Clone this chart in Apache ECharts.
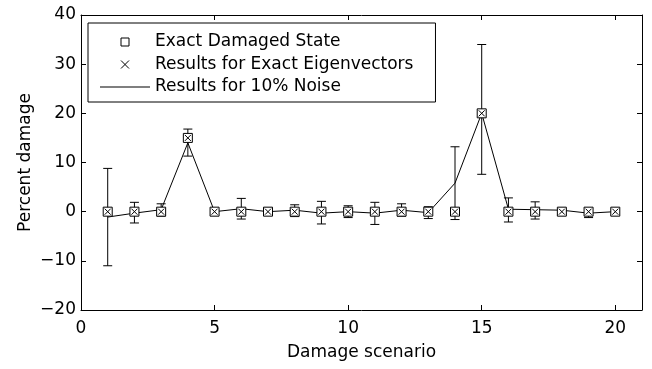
<!DOCTYPE html>
<html>
<head>
<meta charset="utf-8">
<script src="https://cdn.jsdelivr.net/npm/echarts@6/dist/echarts.min.js"></script>
<style>
  html, body { margin: 0; padding: 0; background: #fff; }
  #chart { width: 652px; height: 369px; }
</style>
</head>
<body>
<div id="chart"></div>
<script>
// damage scenarios 1..20
const scenarios = [1, 2, 3, 4, 5, 6, 7, 8, 9, 10, 11, 12, 13, 14, 15, 16, 17, 18, 19, 20];
// exact damaged state (squares)
const exactState = [0, 0, 0, 15, 0, 0, 0, 0, 0, 0, 0, 0, 0, 0, 20, 0, 0, 0, 0, 0];
// results for exact eigenvectors (x marks)
const exactEigen = [0, 0, 0, 15, 0, 0, 0, 0, 0, 0, 0, 0, 0, 0, 20, 0, 0, 0, 0, 0];
// results for 10% noise: mean line and error bar ends
const noiseMean = [-1.1, -0.3, 0.4, 14.0, 0, 0.6, 0, 0.3, -0.3, 0, -0.3, 0.3, -0.2, 5.8, 20, 0.5, 0.4, 0.3, -0.3, 0];
const noiseLow = [-11, -2.3, -0.9, 11.3, -0.5, -1.5, -0.7, -1.0, -2.5, -1.2, -2.6, -0.9, -1.4, -1.6, 7.6, -2.1, -1.5, -0.5, -1.2, -0.5];
const noiseHigh = [8.8, 1.9, 1.6, 16.8, 0.5, 2.7, 0.7, 1.4, 2.1, 1.2, 1.9, 1.6, 1.0, 13.2, 34, 2.8, 2.0, 0.5, 0.6, 0.5];

const FONT = "DejaVu Sans";
const black = "#000";

const chart = echarts.init(document.getElementById("chart"), null, { renderer: "canvas" });

// 축 공통 스타일 (MATLAB 스타일 박스, 안쪽 눈금)
const axisCommon = {
  axisLine: { show: true, onZero: false, lineStyle: { color: black, width: 1 } },
  axisTick: { show: true, inside: true, length: 5, lineStyle: { color: black } },
  splitLine: { show: false },
};

const squareIcon = "path://M0,0h10v10h-10z";
const crossIcon = "path://M0,0L10,10M10,0L0,10";
const lineIcon = "path://M0,0h50v1h-50z";

chart.setOption({
  animation: false,
  backgroundColor: "#fff",
  textStyle: { fontFamily: FONT, color: black },
  grid: { left: 81, right: 10, top: 15, bottom: 59 },
  legend: {
    orient: "vertical",
    left: 88,
    top: 23,
    padding: [10, 22, 6, 12],
    itemWidth: 50,
    itemHeight: 8,
    itemGap: 4.5,
    symbolKeepAspect: true,
    borderColor: black,
    borderWidth: 1,
    backgroundColor: "#fff",
    textStyle: { fontFamily: FONT, fontSize: 17, color: black, lineHeight: 18 },
    data: [
      { name: "Exact Damaged State", icon: squareIcon,
        itemStyle: { color: "#fff", borderColor: black, borderWidth: 1 } },
      { name: "Results for Exact Eigenvectors", icon: crossIcon,
        itemStyle: { color: "none", borderColor: black, borderWidth: 1 } },
      { name: "Results for 10% Noise", icon: lineIcon,
        itemStyle: { color: black, borderWidth: 0 } },
    ],
  },
  xAxis: [
    {
      ...axisCommon,
      type: "value", position: "bottom", min: 0, max: 21, interval: 5,
      axisLabel: {
        fontFamily: FONT, fontSize: 17, color: black, margin: 10,
        formatter: (v) => (v % 5 === 0 ? String(v) : ""),
      },
      name: "Damage scenario",
      nameLocation: "middle",
      nameGap: 34,
      nameMoveOverlap: false,
      nameTextStyle: { fontFamily: FONT, fontSize: 17, color: black },
    },
    {
      ...axisCommon,
      type: "value", position: "top", min: 0, max: 21, interval: 5,
      axisLabel: { show: false },
    },
  ],
  yAxis: [
    {
      ...axisCommon,
      type: "value", position: "left", min: -20, max: 40, interval: 10,
      axisLabel: {
        fontFamily: FONT, fontSize: 17, color: black, margin: 5,
        formatter: (v) => String(v).replace("-", "\u2212"),
      },
      name: "Percent damage",
      nameLocation: "middle",
      nameGap: 47,
      nameMoveOverlap: false,
      nameTextStyle: { fontFamily: FONT, fontSize: 17, color: black },
    },
    {
      ...axisCommon,
      type: "value", position: "right", min: -20, max: 40, interval: 10,
      axisLabel: { show: false },
    },
  ],
  series: [
    {
      name: "Results for 10% Noise",
      type: "line",
      data: scenarios.map((s, i) => [s, noiseMean[i]]),
      symbol: "none",
      lineStyle: { color: black, width: 1 },
      itemStyle: { color: black },
      z: 2,
    },
    {
      name: "errorbars",
      type: "custom",
      data: scenarios.map((s, i) => [s, noiseLow[i], noiseHigh[i]]),
      renderItem: (params, api) => {
        const x = api.value(0);
        const top = api.coord([x, api.value(2)]);
        const bot = api.coord([x, api.value(1)]);
        const w = 4.5;
        const st = { stroke: black, lineWidth: 1 };
        return {
          type: "group",
          children: [
            { type: "line", shape: { x1: top[0], y1: top[1], x2: bot[0], y2: bot[1] }, style: st },
            { type: "line", shape: { x1: top[0] - w, y1: top[1], x2: top[0] + w, y2: top[1] }, style: st },
            { type: "line", shape: { x1: bot[0] - w, y1: bot[1], x2: bot[0] + w, y2: bot[1] }, style: st },
          ],
        };
      },
      z: 3,
      silent: true,
    },
    {
      name: "Exact Damaged State",
      type: "scatter",
      data: scenarios.map((s, i) => [s, exactState[i]]),
      symbol: "rect",
      symbolSize: 9,
      itemStyle: { color: "#fff", borderColor: black, borderWidth: 1, opacity: 1 },
      z: 4,
    },
    {
      name: "Results for Exact Eigenvectors",
      type: "scatter",
      data: scenarios.map((s, i) => [s, exactEigen[i]]),
      symbol: crossIcon,
      symbolSize: 6,
      itemStyle: { color: "none", borderColor: black, borderWidth: 1, opacity: 1 },
      z: 5,
    },
  ],
});
</script>
</body>
</html>
